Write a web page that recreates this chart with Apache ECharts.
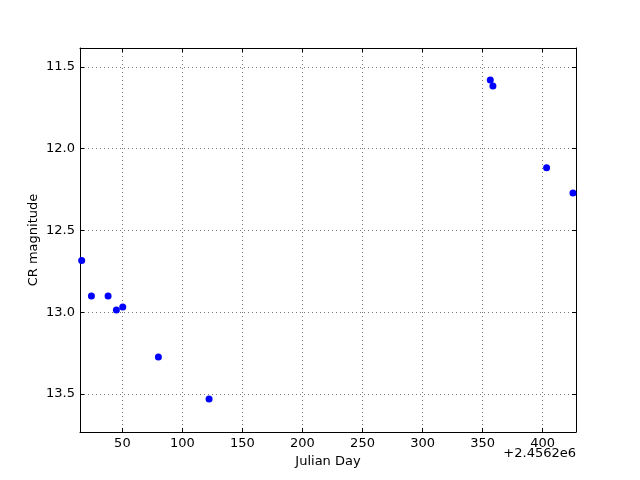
<!DOCTYPE html>
<html><head><meta charset="utf-8">
<script src="https://cdn.jsdelivr.net/npm/echarts@6/dist/echarts.min.js"></script>
<style>html,body{margin:0;padding:0;background:#fff}#c{width:640px;height:480px}</style>
</head><body><div id="c"></div>
<script>
const julianDay = [16.1, 24.2, 38.1, 45.0, 50.3, 80.0, 122.2, 356.4, 358.6, 403.3, 425.3];
const crMag = [12.683, 12.90, 12.90, 12.986, 12.968, 13.273, 13.53, 11.579, 11.616, 12.116, 12.27];
const xTicks = [50, 100, 150, 200, 250, 300, 350, 400];
const yTicks = [11.5, 12.0, 12.5, 13.0, 13.5];
const xRange = [14.7, 427.8];
const yRange = [11.384, 13.732];
const offsetText = '+2.4562e6';
const xTitle = 'Julian Day';
const yTitle = 'CR magnitude';

const font = 'DejaVu Sans';
const chart = echarts.init(document.getElementById('c'), null, {renderer: 'canvas'});
const gridLine = {color: '#777', type: [1, 3], width: 1};
function xAx(pos, show) {
  return {
    type: 'value', position: pos, min: xRange[0], max: xRange[1],
    name: show ? xTitle : '', nameLocation: 'middle', nameGap: 20,
    nameTextStyle: {fontFamily: font, fontSize: 13, color: '#000'},
    axisLine: {show: true, onZero: false, lineStyle: {color: '#000', width: 1}},
    axisTick: {show: true, inside: true, length: 4, customValues: xTicks, lineStyle: {color: '#000'}},
    axisLabel: {show: show, customValues: xTicks, fontFamily: font, fontSize: 13, color: '#000', margin: 5,
      formatter: v => String(Math.round(v))},
    splitLine: {show: show, customValues: xTicks, lineStyle: gridLine}
  };
}
function yAx(pos, show) {
  return {
    type: 'value', position: pos, inverse: true, min: yRange[0], max: yRange[1],
    axisLine: {show: true, onZero: false, lineStyle: {color: '#000', width: 1}},
    axisTick: {show: true, inside: true, length: 4, customValues: yTicks, lineStyle: {color: '#000'}},
    axisLabel: {show: show, customValues: yTicks, fontFamily: font, fontSize: 13, color: '#000', margin: 5,
      formatter: v => v.toFixed(1)},
    splitLine: {show: show, customValues: yTicks, lineStyle: gridLine}
  };
}
chart.setOption({
  animation: false,
  backgroundColor: '#fff',
  grid: {left: 80, right: 64, top: 48, bottom: 48, containLabel: false},
  xAxis: [xAx('bottom', true), xAx('top', false)],
  yAxis: [yAx('left', true), yAx('right', false)],
  graphic: [
    {type: 'text', right: 64, top: 447,
      style: {text: offsetText, fontFamily: font, fontSize: 13, fill: '#000', textAlign: 'right'}},
    {type: 'text', x: 34, y: 240, rotation: Math.PI / 2,
      style: {text: yTitle, fontFamily: font, fontSize: 13, fill: '#000', align: 'center', verticalAlign: 'middle'}}
  ],
  series: [{
    type: 'scatter', xAxisIndex: 0, yAxisIndex: 0,
    data: julianDay.map((d, i) => [d, crMag[i]]),
    symbol: 'circle', symbolSize: 7,
    itemStyle: {color: '#0000ff', opacity: 1}
  }]
});
</script></body></html>
